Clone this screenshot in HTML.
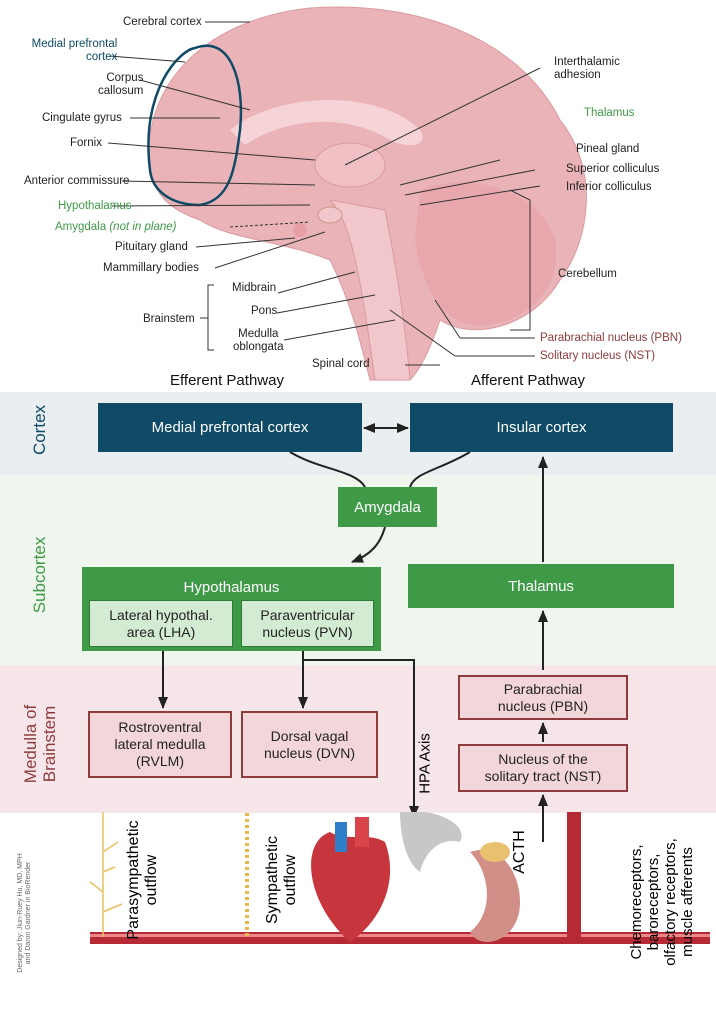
<!DOCTYPE html>
<html><head><meta charset="utf-8"><style>
body{margin:0;width:716px;height:1024px;position:relative;font-family:"Liberation Sans",sans-serif;background:#fff;overflow:hidden}
.a{position:absolute}
.lb{position:absolute;font-size:11.5px;color:#222;line-height:13px}
.bx{position:absolute;display:flex;align-items:center;justify-content:center;text-align:center;box-sizing:border-box}
.dk{background:#0f4a66;color:#fff;font-size:15px}
.gr{background:#3f9a48;color:#fff;font-size:15px}
.lg{background:#d3ebd3;color:#222;font-size:14px;border:1px solid #2f7a36}
.pk{background:#f3d6d9;color:#222;font-size:14px;border:2px solid #8e3b3b;line-height:17px}
.vt{position:absolute;transform:rotate(-90deg);transform-origin:center;white-space:nowrap;text-align:center}
</style></head><body>
<!-- bands -->
<div class="a" style="left:0;top:392px;width:716px;height:83px;background:#e9eef1"></div>
<div class="a" style="left:0;top:475px;width:716px;height:190px;background:#eef6ee"></div>
<div class="a" style="left:0;top:665px;width:716px;height:148px;background:#f6e6ea"></div>
<div class="vt" style="left:-10px;top:420px;width:100px;font-size:17px;color:#0f4a66">Cortex</div>
<div class="vt" style="left:-20px;top:565px;width:120px;font-size:17px;color:#3f9a48">Subcortex</div>
<div class="vt" style="left:-30px;top:725px;width:140px;font-size:17px;color:#8e3b3b;line-height:19px">Medulla of<br>Brainstem</div>

<!-- brain -->
<svg class="a" style="left:0;top:0" width="716" height="392">
<path d="M150,170 C140,90 200,20 310,8 C420,0 520,40 560,120 C600,170 590,240 560,280 C530,330 470,340 440,320 C430,350 420,370 410,380 L370,380 C360,340 350,300 330,260 C280,240 230,240 200,220 C170,210 155,195 150,170Z" fill="#eab3b8" stroke="#d99aa0"/>
<path d="M420,190 C470,170 540,190 555,240 C565,290 520,330 470,325 C440,320 420,280 415,240Z" fill="#e7a7ad"/>
<path d="M330,200 C350,220 360,270 375,380 L410,380 C405,320 395,260 385,210Z" fill="#f2c7cb" stroke="#d99aa0"/>
<path d="M230,130 C280,90 380,90 420,130 C430,145 410,150 390,140 C350,115 290,115 245,145Z" fill="#f5d3d6"/>
<path d="M150,170 C140,90 180,50 195,48 C230,35 245,80 240,130 C235,170 230,200 200,205 C170,205 152,190 150,170Z" fill="none" stroke="#0f4a66" stroke-width="2.5"/>
<ellipse cx="350" cy="165" rx="35" ry="22" fill="#f0c0c5" stroke="#d99aa0"/>
<ellipse cx="330" cy="215" rx="12" ry="8" fill="#f2c7cb" stroke="#c98"/>
<ellipse cx="300" cy="230" rx="7" ry="7" fill="#e8a0a6"/>
<g stroke="#333" stroke-width="1" fill="none">
<path d="M205,22 L250,22 M110,56 L185,62 M140,80 L250,110 M130,118 L220,118 M108,143 L315,160 M122,181 L315,185 M112,206 L310,205" />
<path d="M196,247 L295,238 M215,268 L325,232 M278,293 L355,272 M277,313 L375,295 M284,340 L395,320 M214,285 L208,285 L208,350 L214,350 M200,318 L208,318" />
<path d="M540,68 L345,165 M500,160 L400,185 M535,170 L405,195 M540,186 L420,205 M510,190 L530,200 L530,330 L510,330 M435,300 L460,338 L535,338 M390,310 L455,356 L535,356 M405,365 L440,365"/>
</g>
<line x1="230" y1="227" x2="310" y2="222" stroke="#333" stroke-dasharray="3,2"/>
</svg>
<div class="lb" style="left:123px;top:16px">Cerebral cortex</div>
<div class="lb" style="left:28px;top:38px;color:#0f4a66;text-align:right">Medial prefrontal<br><span style="padding-left:58px">cortex</span></div>
<div class="lb" style="left:98px;top:72px;text-align:right">Corpus<br>callosum</div>
<div class="lb" style="left:42px;top:112px">Cingulate gyrus</div>
<div class="lb" style="left:70px;top:137px">Fornix</div>
<div class="lb" style="left:24px;top:175px">Anterior commissure</div>
<div class="lb" style="left:58px;top:200px;color:#3f9a48">Hypothalamus</div>
<div class="lb" style="left:55px;top:221px;color:#3f9a48">Amygdala <i>(not in plane)</i></div>
<div class="lb" style="left:115px;top:241px">Pituitary gland</div>
<div class="lb" style="left:103px;top:262px">Mammillary bodies</div>
<div class="lb" style="left:232px;top:282px">Midbrain</div>
<div class="lb" style="left:143px;top:313px">Brainstem</div>
<div class="lb" style="left:251px;top:305px">Pons</div>
<div class="lb" style="left:233px;top:328px;text-align:center">Medulla<br>oblongata</div>
<div class="lb" style="left:312px;top:358px">Spinal cord</div>
<div class="lb" style="left:554px;top:56px">Interthalamic<br>adhesion</div>
<div class="lb" style="left:584px;top:107px;color:#3f9a48">Thalamus</div>
<div class="lb" style="left:576px;top:143px">Pineal gland</div>
<div class="lb" style="left:566px;top:163px">Superior colliculus</div>
<div class="lb" style="left:566px;top:181px">Inferior colliculus</div>
<div class="lb" style="left:558px;top:268px">Cerebellum</div>
<div class="lb" style="left:540px;top:332px;color:#8e3b3b">Parabrachial nucleus (PBN)</div>
<div class="lb" style="left:540px;top:350px;color:#8e3b3b">Solitary nucleus (NST)</div>
<div class="lb" style="left:170px;top:372px;font-size:15px;line-height:17px;color:#111">Efferent Pathway</div>
<div class="lb" style="left:471px;top:372px;font-size:15px;line-height:17px;color:#111">Afferent Pathway</div>

<!-- connectors -->
<svg class="a" style="left:0;top:0" width="716" height="1024">
<defs><marker id="ar" markerUnits="userSpaceOnUse" markerWidth="12" markerHeight="12" refX="11" refY="6" orient="auto-start-reverse"><path d="M0,1 L12,6 L0,11Z" fill="#222"/></marker></defs>
<g stroke="#222" stroke-width="2" fill="none">
<line x1="364" y1="428" x2="408" y2="428" marker-end="url(#ar)" marker-start="url(#ar)"/>
<path d="M290,452 C320,470 355,470 365,487"/>
<path d="M470,452 C440,470 415,472 410,487"/>
<path d="M385,527 C380,545 370,555 352,562" marker-end="url(#ar)"/>
<line x1="543" y1="562" x2="543" y2="457" marker-end="url(#ar)"/>
<line x1="543" y1="670" x2="543" y2="611" marker-end="url(#ar)"/>
<line x1="543" y1="742" x2="543" y2="723" marker-end="url(#ar)"/>
<line x1="543" y1="842" x2="543" y2="795" marker-end="url(#ar)"/>
<line x1="163" y1="648" x2="163" y2="708" marker-end="url(#ar)"/>
<line x1="303" y1="648" x2="303" y2="708" marker-end="url(#ar)"/>
<path d="M303,660 L414,660 L414,817" marker-end="url(#ar)"/>
</g>
</svg>
<div class="bx dk" style="left:98px;top:403px;width:264px;height:49px">Medial prefrontal cortex</div>
<div class="bx dk" style="left:410px;top:403px;width:263px;height:49px">Insular cortex</div>
<div class="bx gr" style="left:338px;top:487px;width:99px;height:40px">Amygdala</div>
<div class="a gr" style="left:82px;top:567px;width:299px;height:84px"></div>
<div class="a" style="left:82px;top:579px;width:299px;text-align:center;color:#fff;font-size:15px">Hypothalamus</div>
<div class="bx lg" style="left:89px;top:600px;width:144px;height:47px;line-height:17px">Lateral hypothal.<br>area (LHA)</div>
<div class="bx lg" style="left:241px;top:600px;width:133px;height:47px;line-height:17px">Paraventricular<br>nucleus (PVN)</div>
<div class="bx gr" style="left:408px;top:564px;width:266px;height:44px">Thalamus</div>
<div class="bx pk" style="left:458px;top:675px;width:170px;height:45px">Parabrachial<br>nucleus (PBN)</div>
<div class="bx pk" style="left:458px;top:744px;width:170px;height:48px">Nucleus of the<br>solitary tract (NST)</div>
<div class="bx pk" style="left:88px;top:711px;width:144px;height:67px">Rostroventral<br>lateral medulla<br>(RVLM)</div>
<div class="bx pk" style="left:241px;top:711px;width:137px;height:67px">Dorsal vagal<br>nucleus (DVN)</div>
<div class="vt" style="left:385px;top:755px;width:80px;font-size:15px">HPA Axis</div>

<!-- bottom illustrations -->
<svg class="a" style="left:0;top:812px" width="716" height="212">
<rect x="90" y="120" width="620" height="12" fill="#b52a35"/>
<rect x="90" y="122" width="620" height="3" fill="#e88"/>
<g stroke="#e8c060" stroke-width="1.5" fill="none"><path d="M103,0 L103,125 M103,40 L118,30 M103,80 L90,70 M103,100 L122,92 M103,60 L115,55"/></g>
<line x1="247" y1="-35" x2="247" y2="125" stroke="#e8b84a" stroke-width="4" stroke-dasharray="3,3"/>
<path d="M330,20 C300,30 305,90 350,130 C380,110 400,70 385,30 C370,20 345,30 330,20Z" fill="#c8363d"/>
<rect x="335" y="10" width="12" height="30" fill="#2c7fc8"/><rect x="355" y="5" width="14" height="30" fill="#d9434a"/>
<path d="M400,0 C430,-5 470,10 460,30 C440,25 425,40 420,60 C405,50 400,20 400,0Z" fill="#c7c7c7"/>
<path d="M470,40 C500,30 520,60 520,90 C520,130 480,140 470,120 C495,100 490,60 470,40Z" fill="#d28f88"/>
<ellipse cx="495" cy="40" rx="15" ry="10" fill="#e8c070"/>
<rect x="567" y="0" width="14" height="132" fill="#b52a35"/>
</svg>
<div class="vt" style="left:58px;top:862px;width:170px;font-size:16px;line-height:18px">Parasympathetic<br>outflow</div>
<div class="vt" style="left:212px;top:862px;width:140px;font-size:16px;line-height:18px">Sympathetic<br>outflow</div>
<div class="vt" style="left:490px;top:843px;width:60px;font-size:16px">ACTH</div>
<div class="vt" style="left:582px;top:868px;width:160px;font-size:15px;line-height:17px">Chemoreceptors,<br>baroreceptors,<br>olfactory receptors,<br>muscle afferents</div>
<div class="vt" style="left:-40px;top:905px;width:130px;font-size:7px;color:#666;line-height:8px">Designed by: Jiun-Ruey Hu, MD, MPH<br>and Daron Gardner in BioRender</div>
</body></html>
